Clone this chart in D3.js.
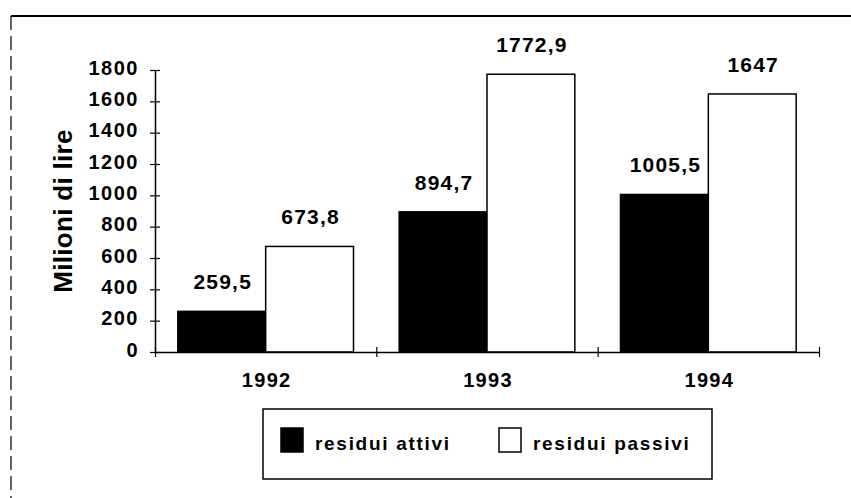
<!DOCTYPE html>
<html>
<head>
<meta charset="utf-8">
<script src="https://cdn.jsdelivr.net/npm/d3@7"></script>
<style>
  html, body { margin: 0; padding: 0; background: #fff; }
  svg { display: block; font-family: "Liberation Sans", Arial, sans-serif; }
</style>
</head>
<body>
<svg id="chart" width="851" height="498"></svg>
<script>
const years = ["1992", "1993", "1994"];
const seriesNames = ["residui attivi", "residui passivi"];
const attivi = [259.5, 894.7, 1005.5];
const passivi = [673.8, 1772.9, 1647];
const valueLabels = [["259,5", "894,7", "1005,5"], ["673,8", "1772,9", "1647"]];
const yTicks = [0, 200, 400, 600, 800, 1000, 1200, 1400, 1600, 1800];
const yTitle = "Milioni di lire";
const seriesFill = ["#000", "#fff"];

const FONT = "Liberation Sans, Arial, sans-serif";
const svg = d3.select("#chart");
const m = { left: 155, right: 819, top: 70, bottom: 352 };

// frame of the scanned chart area
svg.append("line").attr("x1", 11).attr("x2", 851).attr("y1", 16).attr("y2", 16)
  .attr("stroke", "#000").attr("stroke-width", 2);
svg.append("line").attr("x1", 11).attr("x2", 11).attr("y1", 16).attr("y2", 498)
  .attr("stroke", "#000").attr("stroke-width", 1.2).attr("stroke-dasharray", "14,6");

const x0 = d3.scaleBand().domain(years).range([m.left, m.right]).paddingInner(0).paddingOuter(0);
const x1 = d3.scaleBand().domain(seriesNames).range([0, x0.bandwidth()]).paddingInner(0).paddingOuter(0.26);
const y = d3.scaleLinear().domain([0, 1800]).range([m.bottom, m.top]);

const data = years.map((yr, i) => ({ year: yr, values: [attivi[i], passivi[i]] }));

// bars
const groups = svg.append("g").selectAll("g").data(data).join("g")
  .attr("transform", d => `translate(${x0(d.year)},0)`);
groups.selectAll("rect").data((d, i) => d.values.map((v, s) => ({ v, s, i })))
  .join("rect")
  .attr("x", d => x1(seriesNames[d.s]))
  .attr("width", x1.bandwidth())
  .attr("y", d => y(d.v))
  .attr("height", d => y(0) - y(d.v))
  .attr("fill", d => seriesFill[d.s])
  .attr("stroke", "#000").attr("stroke-width", 1.5);

// value labels
groups.selectAll("text").data((d, i) => d.values.map((v, s) => ({ v, s, i })))
  .join("text")
  .attr("x", d => x1(seriesNames[d.s]) + x1.bandwidth() / 2 + 1)
  .attr("y", d => y(d.v) - 22)
  .attr("text-anchor", "middle")
  .attr("font-size", 21).attr("font-weight", "bold").attr("letter-spacing", 1.2)
  .text(d => valueLabels[d.s][d.i]);

// y axis
const yAxis = d3.axisLeft(y).tickValues(yTicks).tickFormat(d3.format("d"))
  .tickSizeInner(5).tickSizeOuter(0).tickPadding(11);
const yg = svg.append("g").attr("transform", `translate(${m.left},0)`).call(yAxis);
yg.select(".domain").attr("stroke-width", 1.5);
yg.selectAll(".tick line").attr("stroke-width", 1.2);
yg.selectAll(".tick").append("line").attr("x1", 0).attr("x2", 5).attr("stroke", "#000").attr("stroke-width", 1.2);
yg.selectAll(".tick text").attr("font-size", 20).attr("font-weight", "bold")
  .attr("font-family", FONT).attr("fill", "#000")
  .attr("letter-spacing", 1.5).attr("dy", "0.2em");

// x axis: boundary ticks
const xb = d3.scaleLinear().domain([0, years.length]).range([m.left, m.right]);
const xAxis = d3.axisBottom(xb).tickValues(d3.range(years.length + 1)).tickSizeInner(5).tickSizeOuter(0).tickFormat("");
const xg = svg.append("g").attr("transform", `translate(0,${m.bottom})`).call(xAxis);
xg.select(".domain").attr("stroke-width", 1.5);
xg.selectAll(".tick line").attr("stroke-width", 1.2);
xg.selectAll(".tick").append("line").attr("y1", 0).attr("y2", -5).attr("stroke", "#000").attr("stroke-width", 1.2);

// category labels
svg.append("g").selectAll("text").data(years).join("text")
  .attr("x", d => x0(d) + x0.bandwidth() / 2 + 1)
  .attr("y", m.bottom + 35)
  .attr("text-anchor", "middle")
  .attr("font-size", 20).attr("font-weight", "bold").attr("letter-spacing", 1.3)
  .text(d => d);

// y title
svg.append("text")
  .attr("transform", `translate(72,${(m.top + m.bottom) / 2}) rotate(-90)`)
  .attr("text-anchor", "middle")
  .attr("font-size", 26).attr("font-weight", "bold").attr("letter-spacing", 0.3)
  .text(yTitle);

// legend
const lg = svg.append("g");
lg.append("rect").attr("x", 263).attr("y", 409).attr("width", 449).attr("height", 70)
  .attr("fill", "#fff").attr("stroke", "#000").attr("stroke-width", 1.5);
const legendX = [281, 499];
seriesNames.forEach((name, i) => {
  lg.append("rect").attr("x", legendX[i]).attr("y", 428).attr("width", 22).attr("height", 24)
    .attr("fill", seriesFill[i]).attr("stroke", "#000").attr("stroke-width", 1.5);
  lg.append("text").attr("x", legendX[i] + 34).attr("y", 450)
    .attr("font-size", 19).attr("font-weight", "bold").attr("letter-spacing", 1.7)
    .text(name);
});
</script>
</body>
</html>
